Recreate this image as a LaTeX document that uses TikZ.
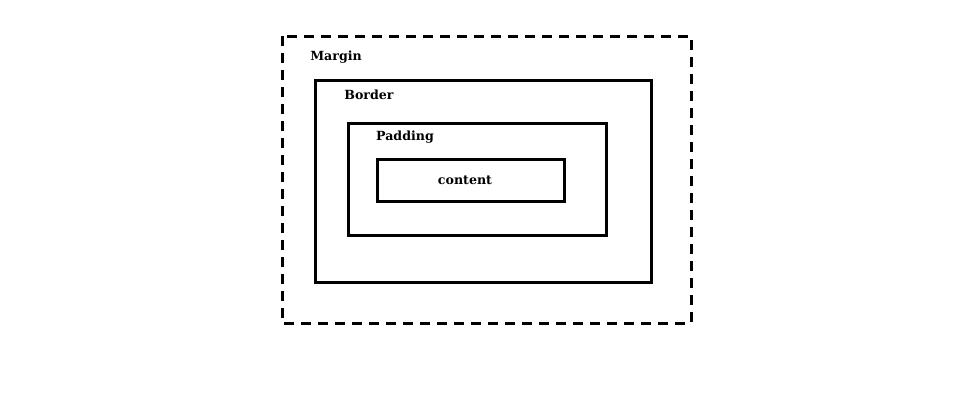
\documentclass[tikz,border=0pt]{standalone}
\usepackage{fontspec}
\setmainfont{DejaVu Serif}
\begin{document}
\begin{tikzpicture}[x=1pt,y=-1pt,
  boxline/.style={line width=3pt},
  lbl/.style={font=\bfseries\fontsize{12.6}{15}\selectfont, inner sep=0pt, anchor=center}]
\useasboundingbox (0,0) rectangle (979,413);
\draw[boxline, dash pattern=on 10pt off 7pt] (282,36) rectangle (691,323);
\draw[boxline] (315,80) rectangle (651,282);
\draw[boxline] (348,123) rectangle (606,235);
\draw[boxline] (377,159) rectangle (564,201);
\node[lbl] (margin) at (336,57) {Margin};
\node[lbl] (border) at (369,95) {Border};
\node[lbl] (padding) at (405,137) {Padding};
\node[lbl] (content) at (465,180) {content};
\end{tikzpicture}
\end{document}
